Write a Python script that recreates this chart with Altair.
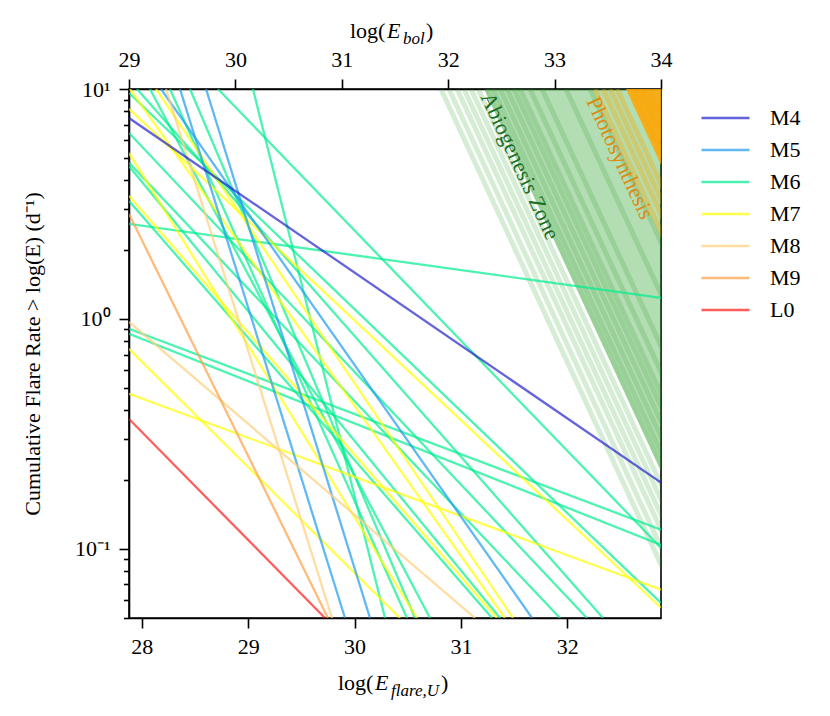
import altair as alt
import pandas as pd

# ---------------- axes ranges ----------------
E_MIN, E_MAX = 27.88, 32.88          # log(E_flare,U)
R_MIN, R_MAX = 0.05, 10.0            # cumulative flare rate
EBOL_TICKS = [29, 30, 31, 32, 33, 34]
EU_TICKS = [28, 29, 30, 31, 32]
Y_TICKS = [0.05, 0.06, 0.07, 0.08, 0.09, 0.1, 0.2, 0.3, 0.4, 0.5, 0.6, 0.7, 0.8, 0.9,
           1, 2, 3, 4, 5, 6, 7, 8, 9, 10]

# ---------------- spectral types ----------------
spt_order = ["M4", "M5", "M6", "M7", "M8", "M9", "L0"]
spt_colors = ["#2222cc", "#1e9bf0", "#00ee90", "#ffff00", "#ffcf7a", "#ff9e41", "#ff1a1a"]

# ---------------- flare frequency distributions (visible end points) ----------------
line_spt = ["M6", "M6", "M6", "M6", "M6", "M6", "M6", "M6", "M6", "M6", "M6", "M6", "M6", "M6",
            "M7", "M7", "M7", "M7", "M7", "M7", "M7",
            "M5", "M5", "M5", "M8", "M8", "M9", "L0", "M4"]
line_e_start = [27.88, 27.88, 27.88, 28.716, 29.045, 27.955, 27.88, 27.88, 27.88, 27.88, 27.88, 28.077, 28.265, 28.453,
                27.889, 27.88, 28.134, 27.88, 27.88, 27.88, 27.88,
                28.181, 28.359, 28.604, 28.228, 27.88, 27.88, 27.88, 27.88]
line_rate_start = [2.59, 0.905, 0.861, 10, 10, 10, 9.61, 6.44, 4.77, 4.62, 3.26, 10, 10, 10,
                   10, 8.19, 10, 5.27, 3.43, 0.741, 0.472,
                   10, 10, 10, 10, 0.970, 2.86, 0.367, 7.48]
line_e_end = [32.88, 32.88, 32.88, 32.88, 30.286, 32.335, 32.88, 32.184, 31.931, 31.367, 31.292, 30.709, 30.493, 30.568,
              31.414, 32.88, 31.489, 30.587, 31.339, 30.427, 32.88,
              31.668, 29.910, 30.145, 29.788, 31.132, 29.750, 29.722, 32.88]
line_rate_end = [1.234, 0.121, 0.104, 0.101, 0.05, 0.05, 0.0582, 0.05, 0.05, 0.05, 0.05, 0.05, 0.05, 0.05,
                 0.05, 0.0554, 0.05, 0.05, 0.05, 0.05, 0.0664,
                 0.05, 0.05, 0.05, 0.05, 0.05, 0.05, 0.05, 0.194]

rows = []
for i, (s, e0, r0, e1, r1) in enumerate(zip(line_spt, line_e_start, line_rate_start, line_e_end, line_rate_end)):
    rows.append({"id": i, "spt": s, "E": e0, "rate": r0})
    rows.append({"id": i, "spt": s, "E": e1, "rate": r1})
lines_df = pd.DataFrame(rows)

# ---------------- habitability zones (slope) ----------------
zone_slope = -1.0
abio_band_top = [30.812, 30.887, 30.963, 31.028, 31.094, 31.160, 31.245, 31.301, 31.367,
                 31.433, 31.498, 31.555, 31.649, 31.762, 31.987, 32.213]
abio_fill_top = 31.216
photo_band_top = [32.260, 32.335, 32.401, 32.467, 32.607, 32.683, 32.758]
photo_fill_top = 32.551

zone_label_text = ["Abiogenesis Zone", "Photosynthesis"]
zone_label_E = [31.555, 32.495]
zone_label_rate = [4.62, 5.01]
zone_label_color = ["#1b6d24", "#dd8a10"]


def band_df(tops):
    r = []
    for k, t in enumerate(tops):
        r.append({"b": k, "E": t, "rate": R_MAX})
        r.append({"b": k, "E": t + 2.5, "rate": R_MAX * 10 ** (zone_slope * 2.5)})
    return pd.DataFrame(r)


def fill_df(top):
    return pd.DataFrame({
        "E": [top, E_MAX],
        "rate": [R_MAX, R_MAX * 10 ** (zone_slope * (E_MAX - top))],
        "top": [R_MAX, R_MAX],
    })


FONT = "Liberation Serif"
xscale = alt.Scale(domain=[E_MIN, E_MAX], nice=False, zero=False)
yscale = alt.Scale(type="log", domain=[R_MIN, R_MAX], nice=False)

x_enc = alt.X("E:Q", scale=xscale,
              axis=alt.Axis(values=EU_TICKS, format="d", title=None, tickSize=10))
major_test = "datum.value == 0.1 || datum.value == 1 || datum.value == 10"
y_enc = alt.Y("rate:Q", scale=yscale,
              axis=alt.Axis(values=Y_TICKS,
                            labelExpr="datum.value == 10 ? '10¹' : datum.value == 1 ? '10⁰' : datum.value == 0.1 ? '10⁻¹' : ''",
                            tickSize={"condition": {"test": major_test, "value": 10}, "value": 5.5},
                            title="Cumulative Flare Rate > log(E) (d⁻¹)",
                            titleX=-97, titleY=264.5, titleAngle=270,
                            titleAlign="center", titleBaseline="middle",
                            titleFont=FONT, titleFontSize=22, titleFontWeight="normal",
                            labelPadding=9))

green_fill = alt.Chart(fill_df(abio_fill_top)).mark_area(
    color="#2ca02c", opacity=0.36, clip=True).encode(
    x=x_enc, y=y_enc, y2="top:Q")
green_bands = alt.Chart(band_df(abio_band_top)).mark_line(
    color="#2ca02c", opacity=0.2, strokeWidth=5, clip=True).encode(
    x=x_enc, y=y_enc, detail="b:N")
orange_fill = alt.Chart(fill_df(photo_fill_top)).mark_area(
    color="#ffa500", opacity=0.85, clip=True).encode(
    x=x_enc, y=y_enc, y2="top:Q")
orange_bands = alt.Chart(band_df(photo_band_top)).mark_line(
    color="#ffa500", opacity=0.35, strokeWidth=5, clip=True).encode(
    x=x_enc, y=y_enc, detail="b:N")

zone_texts = []
for k in range(len(zone_label_text)):
    zone_texts.append(
        alt.Chart(pd.DataFrame({"E": [zone_label_E[k]], "rate": [zone_label_rate[k]],
                                "label": [zone_label_text[k]]}))
        .mark_text(angle=65.2, font=FONT, fontSize=22, align="center", baseline="middle",
                   color=zone_label_color[k])
        .encode(x=x_enc, y=y_enc, text="label:N"))

lines = alt.Chart(lines_df).mark_line(opacity=0.7, strokeWidth=2.3, clip=True).encode(
    x=x_enc, y=y_enc, detail="id:N",
    color=alt.Color("spt:N", sort=spt_order,
                    scale=alt.Scale(domain=spt_order, range=spt_colors),
                    legend=alt.Legend(title=None, orient="none", legendX=571, legendY=18,
                                      symbolType="stroke", symbolSize=2304, symbolStrokeWidth=2.5,
                                      symbolOpacity=0.7, clipHeight=22, rowPadding=10,
                                      labelOffset=19, labelFont=FONT, labelFontSize=22,
                                      labelColor="black", padding=0)))

one = pd.DataFrame({"a": [0]})


def piece(txt, x, y, size=22, italic=False):
    return alt.Chart(one).mark_text(
        text=txt, font=FONT, fontSize=size, fontStyle="italic" if italic else "normal",
        align="left", baseline="alphabetic", color="black").encode(
        x=alt.value(x), y=alt.value(y))


title_pieces = [
    piece("log(", 209, 601), piece("E", 246, 601, italic=True),
    piece("flare,U", 262, 607, size=17, italic=True), piece(")", 312, 601),
    piece("log(", 221, -51), piece("E", 258, -51, italic=True),
    piece("bol", 274, -45, size=17, italic=True), piece(")", 297, -51),
]

main = alt.layer(green_fill, green_bands, orange_fill, orange_bands, *zone_texts, lines, *title_pieces)

top_axis = alt.Chart(pd.DataFrame({"Ebol": EBOL_TICKS})).mark_point(opacity=0).encode(
    x=alt.X("Ebol:Q", scale=alt.Scale(domain=[EBOL_TICKS[0], EBOL_TICKS[-1]], nice=False, zero=False),
            axis=alt.Axis(orient="top", values=EBOL_TICKS, format="d", title=None, tickSize=10)))

chart = alt.layer(main, top_axis).resolve_scale(x="independent").properties(
    width=532, height=529,
    autosize=alt.AutoSizeParams(type="none"),
    padding={"left": 121, "top": 81, "right": 161, "bottom": 90},
).configure_axis(
    grid=False, domainColor="black", domainWidth=1.6, tickColor="black", tickWidth=1.6,
    labelFont=FONT, labelFontSize=22, labelColor="black", labelFlush=False,
    labelPadding=8, labelOverlap=False,
).configure_view(stroke="black", strokeWidth=1.6)

chart.save("out.html", embed_options={"renderer": "svg", "actions": False})
